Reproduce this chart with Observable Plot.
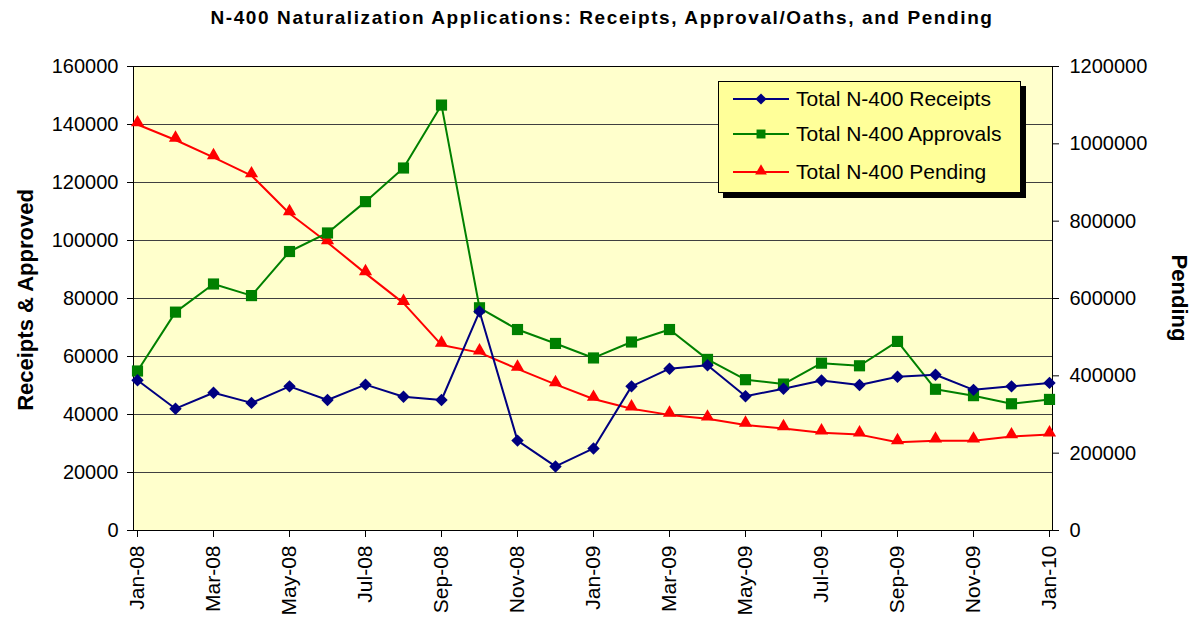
<!DOCTYPE html>
<html>
<head>
<meta charset="utf-8">
<script src="https://cdn.jsdelivr.net/npm/d3@7"></script>
<script src="https://cdn.jsdelivr.net/npm/@observablehq/plot@0.6"></script>
<style>
  body { margin: 0; background: #fff; font-family: "Liberation Sans", Arial, sans-serif; }
  #wrap { position: relative; width: 1194px; height: 618px; overflow: hidden; background: #fff; }
  #title { position: absolute; top: 7px; left: 602px; transform: translateX(-50%); font-weight: bold; font-size: 19px; letter-spacing: 1.6px; white-space: nowrap; color: #000; }
  #chart { position: absolute; top: 36px; left: 0; }
  .ylab { position: absolute; font-weight: bold; font-size: 22px; white-space: nowrap; color: #000; }
  #ylabL { left: 26px; top: 300px; transform: translate(-50%, -50%) rotate(-90deg); }
  #ylabR { left: 1179px; top: 298px; transform: translate(-50%, -50%) rotate(90deg); }
  #legend { position: absolute; left: 718px; top: 81px; width: 301px; height: 110px; background: #FFFF99; border: 1px solid #000; box-shadow: 5px 5px 0 #000; }
  .item { position: absolute; left: 14px; height: 30px; display: flex; align-items: center; font-size: 21px; color: #000; white-space: nowrap; }
  .item svg { margin-right: 7px; }
</style>
</head>
<body>
<div id="wrap">
  <div id="title">N-400 Naturalization Applications: Receipts, Approval/Oaths, and Pending</div>
  <div id="chart"></div>
  <div class="ylab" id="ylabL">Receipts &amp; Approved</div>
  <div class="ylab" id="ylabR">Pending</div>
  <div id="legend"></div>
</div>
<script>
const months = ["Jan-08","Feb-08","Mar-08","Apr-08","May-08","Jun-08","Jul-08","Aug-08","Sep-08","Oct-08","Nov-08","Dec-08",
                "Jan-09","Feb-09","Mar-09","Apr-09","May-09","Jun-09","Jul-09","Aug-09","Sep-09","Oct-09","Nov-09","Dec-09","Jan-10"];
const receipts  = [51800, 42000, 47500, 44000, 49700, 45000, 50300, 46100, 45000, 75500, 31000, 22100,
                   28300, 49700, 55800, 57000, 46300, 48900, 51700, 50200, 53000, 53700, 48500, 49700, 50900];
const approvals = [55000, 75300, 85000, 81000, 96200, 102600, 113400, 125000, 146700, 76800, 69300, 64500,
                   59500, 65000, 69300, 59000, 52000, 50500, 57700, 56800, 65200, 48700, 46500, 43700, 45200];
const pending   = [1050000, 1010000, 965000, 918000, 820000, 745000, 665000, 588000, 480000, 460000, 418000, 378000,
                   340000, 315000, 299000, 289000, 273000, 264000, 253000, 248000, 228000, 232000, 232000, 243000, 248000];
const leftTicks  = [0, 20000, 40000, 60000, 80000, 100000, 120000, 140000, 160000];
const rightTicks = [0, 200000, 400000, 600000, 800000, 1000000, 1200000];
const xTickLabels = months.filter((d, i) => i % 2 === 0);
const seriesNames = ["Total N-400 Receipts", "Total N-400 Approvals", "Total N-400 Pending"];
const seriesColors = ["#000080", "#008000", "#FF0000"];

const ratio = 1200000 / 160000; // right axis / left axis
const rows = months.map((m, i) => ({month: m, receipts: receipts[i], approvals: approvals[i], pend: pending[i] / ratio}));

const chart = Plot.plot({
  width: 1194,
  height: 582,
  marginTop: 30,
  marginBottom: 88,
  marginLeft: 133,
  marginRight: 142,
  style: {fontFamily: "'Liberation Sans', Arial, sans-serif", fontSize: "20px", background: "transparent", color: "#000"},
  x: {type: "point", domain: months, padding: 0, label: null},
  y: {domain: [0, 160000], label: null},
  marks: [
    Plot.frame({fill: "#FFFFCC", stroke: "none"}),
    Plot.gridY({ticks: leftTicks, stroke: "#404040", strokeOpacity: 1, strokeWidth: 1}),
    Plot.axisY({ticks: leftTicks, tickFormat: d => String(d), tickSize: 6, tickPadding: 9, label: null, fontSize: 20}),
    Plot.axisY({anchor: "right", ticks: rightTicks.map(v => v / ratio), tickFormat: d => String(Math.round(d * ratio)), tickSize: 6, tickPadding: 11, label: null, fontSize: 20}),
    Plot.axisX({ticks: xTickLabels, tickRotate: -90, tickSize: 7, tickPadding: 8, label: null, fontSize: 21}),
    Plot.frame({stroke: "#000", strokeWidth: 1}),
    Plot.line(rows, {x: "month", y: "pend", stroke: seriesColors[2], strokeWidth: 2}),
    Plot.line(rows, {x: "month", y: "approvals", stroke: seriesColors[1], strokeWidth: 2}),
    Plot.line(rows, {x: "month", y: "receipts", stroke: seriesColors[0], strokeWidth: 2}),
    Plot.dot(rows, {x: "month", y: "pend", symbol: "triangle", r: 4.9, fill: seriesColors[2], stroke: "none", dy: -2}),
    Plot.dot(rows, {x: "month", y: "approvals", symbol: "square", r: 6.3, fill: seriesColors[1], stroke: "none"}),
    Plot.dot(rows, {x: "month", y: "receipts", symbol: "diamond2", r: 5.6, fill: seriesColors[0], stroke: "none"})
  ]
});
document.getElementById("chart").appendChild(chart);

// legend
const symbols = [d3.symbolDiamond2, d3.symbolSquare, d3.symbolTriangle];
const sizes = [80, 80, 60];
const legend = document.getElementById("legend");
const tops = [2, 37, 75];
seriesNames.forEach((name, i) => {
  const item = document.createElement("div");
  item.className = "item";
  item.style.top = tops[i] + "px";
  const svg = d3.create("svg").attr("width", 56).attr("height", 20);
  svg.append("line").attr("x1", 0).attr("x2", 56).attr("y1", 10).attr("y2", 10)
     .attr("stroke", seriesColors[i]).attr("stroke-width", 2);
  svg.append("path").attr("transform", `translate(28,${i === 2 ? 9 : 10})`)
     .attr("d", d3.symbol(symbols[i], sizes[i])()).attr("fill", seriesColors[i]);
  item.appendChild(svg.node());
  const span = document.createElement("span");
  span.textContent = name;
  item.appendChild(span);
  legend.appendChild(item);
});
</script>
</body>
</html>
